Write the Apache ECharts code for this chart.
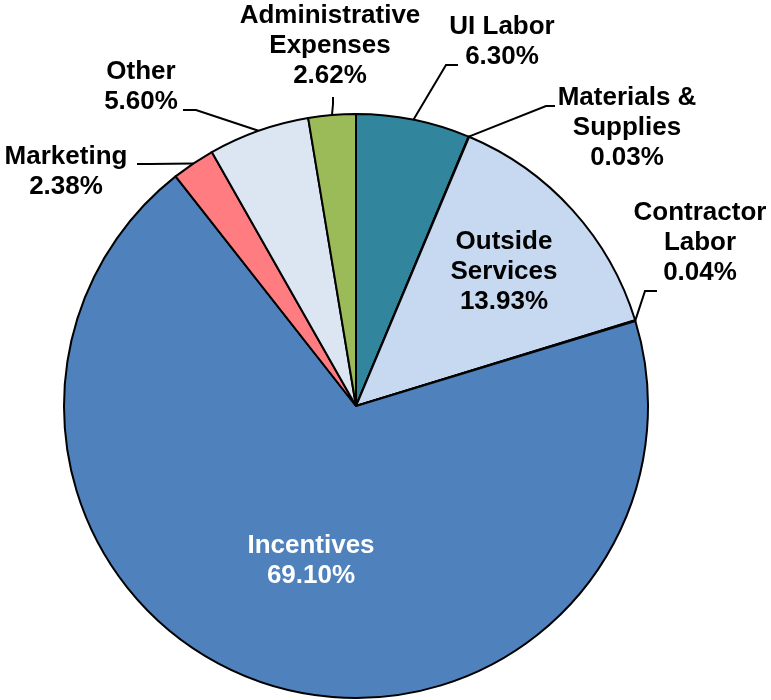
<!DOCTYPE html>
<html>
<head>
<meta charset="utf-8">
<script src="https://cdn.jsdelivr.net/npm/echarts@6/dist/echarts.min.js"></script>
<style>html,body{margin:0;padding:0;background:#fff}#c{width:771px;height:700px}</style>
</head>
<body>
<div id="c"></div>
<script>
// Data (clockwise from 12 o'clock)
var categories = ['UI Labor', 'Materials &\nSupplies', 'Outside\nServices', 'Contractor\nLabor', 'Incentives', 'Marketing', 'Other', 'Administrative\nExpenses'];
var values = [6.30, 0.03, 13.93, 0.04, 69.10, 2.38, 5.60, 2.62];
var colors = ['#31859C', '#8064A2', '#C6D9F1', '#F79646', '#4F81BD', '#FF7C80', '#DCE6F2', '#9BBB59'];
var insideLabels = [false, false, true, false, true, false, false, false];

// Layout config (label positions and leader-line bends)
var CX = 356, CY = 406, R = 292;
var labelPos = [
  { x: 502, y: 42, line: [[446, 65], [458, 65]] },
  { x: 627, y: 128, line: [[546, 106], [555, 106]] },
  { x: 504, y: 272 },
  { x: 700, y: 243, line: [[645, 291], [657, 291]] },
  { x: 311, y: 561 },
  { x: 66, y: 172, line: [[150, 164], [137, 164]] },
  { x: 141, y: 87, line: [[196, 110], [183, 110]] },
  { x: 330, y: 46, line: [[333, 104], [333, 97]] }
];

var total = values.reduce(function (a, b) { return a + b; }, 0);
var cum = 0;
var midAngles = values.map(function (v) { var m = (cum + v / 2) / total * Math.PI * 2; cum += v; return m; });

var chart = echarts.init(document.getElementById('c'), null, { renderer: 'canvas' });
var data = categories.map(function (name, i) {
  var d = {
    name: name,
    value: values[i],
    itemStyle: { color: colors[i] }
  };
  if (insideLabels[i]) {
    d.label = { position: 'inside', color: i === 4 ? '#fff' : '#000' };
    d.labelLine = { show: false };
  }
  return d;
});

chart.setOption({
  backgroundColor: '#fff',
  animation: false,
  series: [{
    type: 'pie',
    center: [CX, CY],
    radius: R,
    startAngle: 90,
    clockwise: true,
    avoidLabelOverlap: false,
    minShowLabelAngle: 0,
    itemStyle: { borderColor: '#000', borderWidth: 2 },
    label: {
      show: true,
      position: 'outside',
      formatter: function (p) { return p.name + '\n' + p.value.toFixed(2) + '%'; },
      fontFamily: '"Liberation Sans", Arial, sans-serif',
      fontWeight: 'bold',
      fontSize: 26,
      lineHeight: 30,
      color: '#000',
      align: 'center'
    },
    labelLine: {
      show: true,
      smooth: false,
      lineStyle: { color: '#000', width: 2 }
    },
    emphasis: { disabled: true },
    labelLayout: function (p) {
      var L = labelPos[p.dataIndex];
      var res = { x: L.x, y: L.y, align: 'center', verticalAlign: 'middle' };
      if (L.line) {
        var a = midAngles[p.dataIndex];
        var start = [CX + R * Math.sin(a), CY - R * Math.cos(a)];
        res.labelLinePoints = [start, L.line[0], L.line[1]];
      }
      return res;
    },
    data: data
  }]
});
</script>
</body>
</html>
